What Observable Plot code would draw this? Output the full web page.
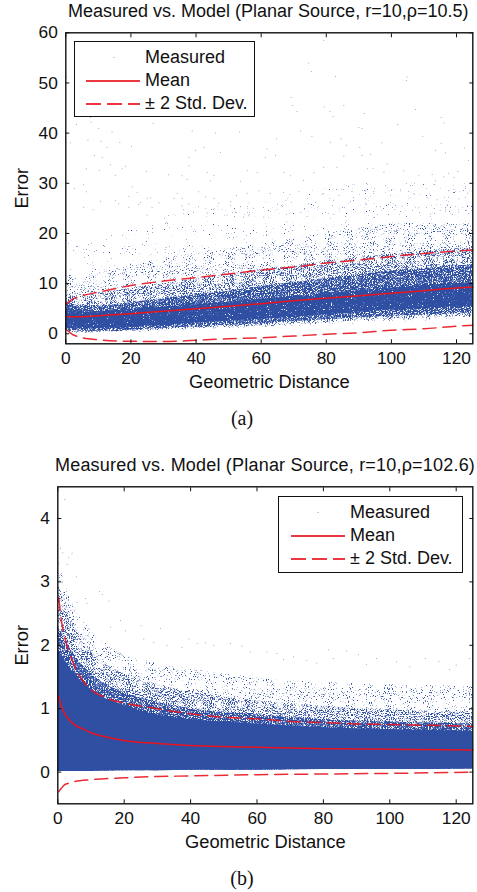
<!DOCTYPE html>
<html><head><meta charset="utf-8">
<script src="https://cdn.jsdelivr.net/npm/d3@7"></script>
<script src="https://cdn.jsdelivr.net/npm/@observablehq/plot@0.6"></script>
<style>
html,body{margin:0;padding:0;background:#fff;}
#page{position:relative;width:477px;height:892px;overflow:hidden;font-family:"Liberation Sans",sans-serif;color:#111;}
#page svg{position:absolute;left:0;}
.t{position:absolute;white-space:nowrap;font-size:18px;line-height:20px;}
.cap{position:absolute;font-family:"Liberation Serif",serif;font-size:20px;line-height:20px;transform:translateX(-50%);}
.leg{position:absolute;background:#fff;border:1.3px solid #111;box-sizing:border-box;}
.leg span{position:absolute;font-size:18px;line-height:18px;white-space:nowrap;}
.leg i{position:absolute;display:block;height:2px;width:54px;opacity:.85;}
</style></head><body><div id="page"></div>
<script>
const blue="#2f4fa3", red="#e8141f";
const xLabel="Geometric Distance", yLabel="Error";
const titleA="Measured vs. Model (Planar Source, r=10,ρ=10.5)";
const titleB="Measured vs. Model (Planar Source, r=10,ρ=102.6)";
const legendLabels=["Measured","Mean","± 2 Std. Dev."];
const xTicks=[0,20,40,60,80,100,120];
const yTicksA=[0,10,20,30,40,50,60];
const yTicksB=[0,1,2,3,4];

// Panel (a) curves
const aMeanX=[0,5,10,20,30,40,50,60,70,80,90,100,110,120,125];
const aMeanY=[3.4,3.4,3.6,4.0,4.5,5.0,5.5,6.0,6.6,7.1,7.6,8.1,8.6,9.1,9.3];
const aUpX=[0,1,2,3,5,10,20,30,40,50,60,70,80,90,100,110,120,125];
const aUpY=[5.9,6.4,6.9,7.2,7.6,8.3,9.6,10.5,11.2,11.9,12.7,13.3,14.1,14.7,15.4,16.0,16.5,16.7];
const aLoY=[0.9,0.4,-0.1,-0.4,-0.8,-1.2,-1.5,-1.55,-1.3,-1.0,-0.8,-0.45,-0.1,0.2,0.7,1.0,1.5,1.7];
// Panel (a) extents of the dense point cloud, by density level
const aBandX=[0,5,10,20,30,40,50,60,70,80,90,100,110,120,125];
const aFaintLo=[0.1,0.1,0.1,0.2,0.5,0.7,0.9,1.1,1.3,1.5,1.8,2.0,2.3,2.6,2.8];
const aFaintHi=[20,18,19,21,23,25,26,27,28,29,30,30,30,30,30];
const aSparseLo=[0.2,0.2,0.2,0.3,0.6,0.9,1.1,1.3,1.6,1.9,2.2,2.5,2.7,3.0,3.2];
const aSparseHi=[12,11,12,13.5,15,16,17,18,19,20,21,22,22,22,22];
const aMidLo=[0.3,0.3,0.3,0.5,0.8,1.1,1.3,1.6,1.9,2.2,2.6,2.9,3.1,3.4,3.6];
const aMidHi=[8,7.5,8,9,10,11,11.8,12.8,13.5,14.5,15.2,15.8,16.5,17,17.2];
const aDenseLo=[0.6,0.5,0.5,0.7,1.1,1.4,1.7,2.0,2.4,2.8,3.2,3.5,3.8,4.0,4.2];
const aDenseHi=[6.2,5.6,5.6,6.2,7,7.8,8.5,9.4,10.2,11,11.8,12.5,13,13.5,13.7];
const aCoreLo=[1,1,1,1.3,1.7,2.1,2.5,2.9,3.3,3.8,4.3,4.7,5,5.3,5.5];
const aCoreHi=[4.9,4.4,4.4,4.9,5.3,5.8,6.3,6.9,7.4,8,8.6,9.1,9.6,10,10.2];
// Panel (a) isolated measured points
const aPtX=[79.2,74.6,75.4,82.8,104.8,104.6,0.2,2.7,69.2,69.7,71,79.4,81.1,82.1,85.4,91.7,107.4,115.3,116.1,101.9,90,91,72.1,75.6,38.8,46,53.4,14.2,10.1,3.3,7.8,7.6,26.8,1.4,6.8,10.8,12.7,16.6,20.2,64.7,81.3,84.5,109.6,115.3,86.2,90.3,97.1,42.4,39.8,61.8,47.5,37.8,64.4,61.3,93.6,91,85.4,113.5,116.6,122.4,123.7,8.8,11.2,13.7,18.3,17.3,15.2,6.3,10.3,24.8,31.6,37.8,43.4,45.5,35.7,37.3,44.4,53.6,55.7,58.8,67,69,73,76.2,79.2,83.3,92.6,94.4,98.7,97.7,103.8,108.4,112.5,117.6,120.4,113.5,116.1,119.2,5.5,2.7,6.3,20.4,19.4,21.9,34.2,33.2,35.7,40.8,42.9,45.5,52.4,55.7,59.3,62.8,66.9,71.6,78.7,83.9,87.9,92,94.6,98.2,102.8,105.3,106.9,111,114,119.2,117.6,120.7,122.7,10.7,15.2,16.3,25,26,28.6,22.9,5.5,19.4,22.4,26.5,35.7,37.8,40.8,47,50.6,53.6,57.7,65,67.6,74.6,76.7,82.3,87.4,92,96.6,99.7,103.3,108.4,115,112,116.6,120.7,123.7,8.4,25,31.6,36.2,43.4,49.5,54.6,60.8,74.1,82.3,94.6,98.7,101.8,107.4,115];
const aPtY=[58.5,54,52.3,51.3,51.2,50.5,51.2,49.7,47.1,45.5,44.3,45.2,44.3,43.3,45.5,43.9,44.7,43.1,42,41.7,41.1,40.9,40.4,39.4,40.4,40,40.2,40.2,40.9,41.7,42.2,43.1,41.9,38.1,38.6,38.4,37.2,38.2,37.4,38.9,38.2,38.9,39.4,38,37.6,37.2,38.1,37.2,36.6,36.9,36.2,35.2,35.6,35.2,35.8,35.6,35.4,36.6,36.1,37.1,34.6,35.6,35.2,33.7,33.4,32.9,31.6,32.9,32.6,32.4,31.7,33.5,32.2,31.6,31.5,30.8,30.5,30.4,32.5,32.2,32.2,31.5,30.6,32.1,33.2,33.2,32.9,33,33.9,32.2,32.5,31.5,31.8,32,32.4,30.5,31.3,31.2,29.7,29,28.3,29.3,27.4,28.2,28,27,27,28.3,27.3,27,27.6,28,28.5,28,28.2,28.3,27.8,27.6,28.4,28.5,28,29.5,28.7,28.4,27.9,27.2,26.7,28.8,27.2,26.9,27.2,26.4,26.5,25.9,27,27.1,26.1,26.2,25.2,25.2,25.8,25.2,25.5,25.9,25.3,26,26.3,25.3,25,25.8,26.6,25.9,26.2,26.6,26.3,25.9,25.3,26.2,25.4,25.1,24.6,23.9,24.8,24.3,24,24.7,23.7,23.6,24.7,24.1,23.7,23.3,23.3,23.4,23.8,23.2];
// Panel (b) curves
const bMeanX=[0.3,0.5,1,2,3,5,8,10,15,20,30,40,50,60,70,80,90,100,110,125];
const bMeanY=[1.2,1.15,1.05,0.93,0.85,0.75,0.67,0.62,0.55,0.5,0.45,0.42,0.405,0.39,0.38,0.37,0.365,0.36,0.355,0.35];
const bUpX=[0.3,1,2,3,5,8,15,20,30,40,50,60,70,80,90,100,110,125];
const bUpY=[2.75,2.42,2.15,1.95,1.68,1.41,1.16,1.09,1.0,0.92,0.865,0.84,0.8,0.78,0.76,0.75,0.74,0.72];
const bLoX=[0.3,1,2,3,5,10,20,30,40,60,80,100,125];
const bLoY=[-0.31,-0.26,-0.2,-0.18,-0.15,-0.12,-0.09,-0.07,-0.06,-0.04,-0.03,-0.02,0];
// Panel (b) extents of the dense point cloud, by density level
const bBandX=[0,2,5,10,20,30,40,50,60,80,100,125];
const bFloor=[0.01,0.01,0.01,0.01,0.02,0.02,0.03,0.03,0.03,0.04,0.04,0.05];
const bSparseHi=[3.4,3.0,2.6,2.25,1.85,1.72,1.62,1.55,1.48,1.42,1.38,1.35];
const bMidHi=[3,2.7,2.3,1.9,1.55,1.38,1.26,1.18,1.12,1.04,0.98,0.94];
const bDenseHi=[2.3,2.1,1.85,1.55,1.25,1.1,1.0,0.94,0.9,0.83,0.79,0.76];
const bCoreHi=[1.9,1.75,1.55,1.3,1.05,0.9,0.83,0.79,0.76,0.7,0.67,0.64];
// Panel (b) isolated measured points
const bPtX=[2.1,0.8,1.5,4.3,3.3,2.8,0.3,0.6,5.6,12.6,13.4,15.4,8.3,5.8,8.8,18.9,25.1,30.9,15.9,20.4,39.5,44.5,52,55.5,81.6,42,47,37.4,25.9,28.9,32.9,63,66,71,87,90.6,110.7,114.8,96,102,83,75,124,120,58,68,78,93,106,118];
const bPtY=[4.3,3.53,3.46,3.45,3.38,3.28,3.3,3.02,3.08,2.85,2.8,2.7,2.74,2.68,2.66,2.39,2.31,2.27,2.29,2.23,2.1,2.04,2.03,1.99,1.93,2.03,2,1.97,2.1,2.05,2,1.9,1.87,1.82,1.91,1.85,1.79,1.75,1.79,1.74,1.79,1.76,1.79,1.69,1.9,1.78,1.72,1.7,1.66,1.62];

const tbl=(xs,ys)=>xs.map((x,i)=>({x,y:ys[i]}));
const bandTbl=(xs,lo,hi)=>xs.map((x,i)=>({x,lo:lo[i],hi:hi[i]}));
const band=(xs,lo,hi)=>Plot.areaY(bandTbl(xs,lo,hi),{x:"x",y1:"lo",y2:"hi",fill:blue,curve:"monotone-x"});
const axes=(ticks,yOffset)=>[
  Plot.axisX(xTicks,{anchor:"top",tickSize:-4,tickFormat:()=>"",label:null,stroke:"#111"}),
  Plot.axisY(ticks,{anchor:"right",tickSize:-4,tickFormat:()=>"",label:null,stroke:"#111"}),
  Plot.axisX(xTicks,{anchor:"bottom",tickSize:-4,tickPadding:12,fontSize:17.3,tickFormat:"d",label:null,stroke:"#111",fill:"#111"}),
  Plot.axisY(ticks,{anchor:"left",tickSize:-4,tickPadding:12,fontSize:17.3,tickFormat:"d",label:null,stroke:"#111",fill:"#111"}),
  Plot.axisX([],{anchor:"bottom",fontSize:18.3,label:xLabel,labelAnchor:"center",labelArrow:"none",labelOffset:44,fill:"#111"}),
  Plot.axisY([],{anchor:"left",fontSize:18.3,label:yLabel,labelAnchor:"center",labelArrow:"none",labelOffset:yOffset,fill:"#111"}),
  Plot.frame({stroke:"#111",strokeWidth:1.4})
];
const curves=(mean,up,lo)=>[
  Plot.line(up,{x:"x",y:"y",stroke:red,strokeWidth:1.5,strokeDasharray:"13 7",curve:"monotone-x",strokeOpacity:.9}),
  Plot.line(lo,{x:"x",y:"y",stroke:red,strokeWidth:1.5,strokeDasharray:"13 7",curve:"monotone-x",strokeOpacity:.9}),
  Plot.line(mean,{x:"x",y:"y",stroke:red,strokeWidth:1.5,curve:"monotone-x"})
];
const common={width:477,style:{background:"transparent",fontFamily:"'Liberation Sans',sans-serif",overflow:"visible"},x:{domain:[0,125],axis:null},marginRight:4.7};

const plotA=Plot.plot({...common,height:400,marginLeft:65.3,marginTop:32.3,marginBottom:56.7,
  y:{domain:[-2,60],axis:null},
  marks:[
    band(aBandX,aFaintLo,aFaintHi),band(aBandX,aSparseLo,aSparseHi),band(aBandX,aMidLo,aMidHi),band(aBandX,aDenseLo,aDenseHi),band(aBandX,aCoreLo,aCoreHi),
    Plot.dot(tbl(aPtX,aPtY),{x:"x",y:"y",r:0.5,fill:blue,fillOpacity:.6}),
    ...curves(tbl(aMeanX,aMeanY),tbl(aUpX,aUpY),tbl(aUpX,aLoY)),
    ...axes(yTicksA,51)
  ]});
const plotB=Plot.plot({...common,height:420,marginLeft:57.3,marginTop:41.3,marginBottom:61.7,
  y:{domain:[-0.5,4.5],axis:null},
  marks:[
    band(bBandX,bFloor,bSparseHi),band(bBandX,bFloor,bMidHi),band(bBandX,bFloor,bDenseHi),band(bBandX,bFloor,bCoreHi),
    Plot.dot(tbl(bPtX,bPtY),{x:"x",y:"y",r:0.5,fill:blue,fillOpacity:.6}),
    ...curves(tbl(bMeanX,bMeanY),tbl(bUpX,bUpY),tbl(bLoX,bLoY)),
    ...axes(yTicksB,43)
  ]});

// Speckle texture standing in for the individual points of the dense cloud
function speckle(svg,thresholds,tag){
  const ns="http://www.w3.org/2000/svg";
  const defs=document.createElementNS(ns,"defs");
  const areas=svg.querySelectorAll('g[aria-label="area"]');
  thresholds.forEach((t,i)=>{
    if(t==null||!areas[i])return;
    const id="sp"+tag+i;
    defs.innerHTML+=`<filter id="${id}" x="-5%" y="-5%" width="110%" height="110%" color-interpolation-filters="sRGB">
      <feTurbulence type="fractalNoise" baseFrequency="0.95" numOctaves="2" seed="${i*7+3}" result="n"/>
      <feColorMatrix in="n" type="matrix" values="0 0 0 0 0  0 0 0 0 0  0 0 0 0 0  8 0 0 0 ${-8*t}" result="m"/>
      <feComposite in="SourceGraphic" in2="m" operator="in"/></filter>`;
    areas[i].setAttribute("filter",`url(#${id})`);
  });
  svg.prepend(defs);
}
speckle(plotA,[0.72,0.62,0.52,0.4,0.28],"a");
speckle(plotB,[0.62,0.52,0.4,null],"b");

const page=document.getElementById("page");
plotA.style.top="0px"; plotB.style.top="445px";
page.append(plotA,plotB);
function txt(cls,s,left,top,ls){const d=document.createElement("div");d.className=cls;d.textContent=s;d.style.left=left+"px";d.style.top=top+"px";if(ls)d.style.letterSpacing=ls+"px";page.append(d);}
txt("t",titleA,68,1);
txt("t",titleB,55,455,0.2);
txt("cap","(a)",242,408);
txt("cap","(b)",242,868);
function legend(l,t,w,h,textX,lineX,dotX){
  const d=document.createElement("div");d.className="leg";
  Object.assign(d.style,{left:l+"px",top:t+"px",width:w+"px",height:h+"px"});
  const ys=[14.5,38,61];
  legendLabels.forEach((s,i)=>{const e=document.createElement("span");e.textContent=s;e.style.left=textX+"px";e.style.top=(ys[i]-9)+"px";d.append(e);
    if(i==0){const p=document.createElement("i");Object.assign(p.style,{left:dotX+"px",top:ys[0]+"px",width:"1.5px",height:"1.5px",background:"#b9c3e0"});d.append(p);}
    else{const p=document.createElement("i");p.style.left=lineX+"px";p.style.top=Math.round(ys[i])+"px";
      p.style.background=i==1?red:`repeating-linear-gradient(90deg,${red} 0 15px,transparent 15px 21px)`;d.append(p);}
  });
  page.append(d);
}
legend(74,41,181,76,70,11,38);
legend(278,496,185,77,71,12,38);
</script></body></html>
